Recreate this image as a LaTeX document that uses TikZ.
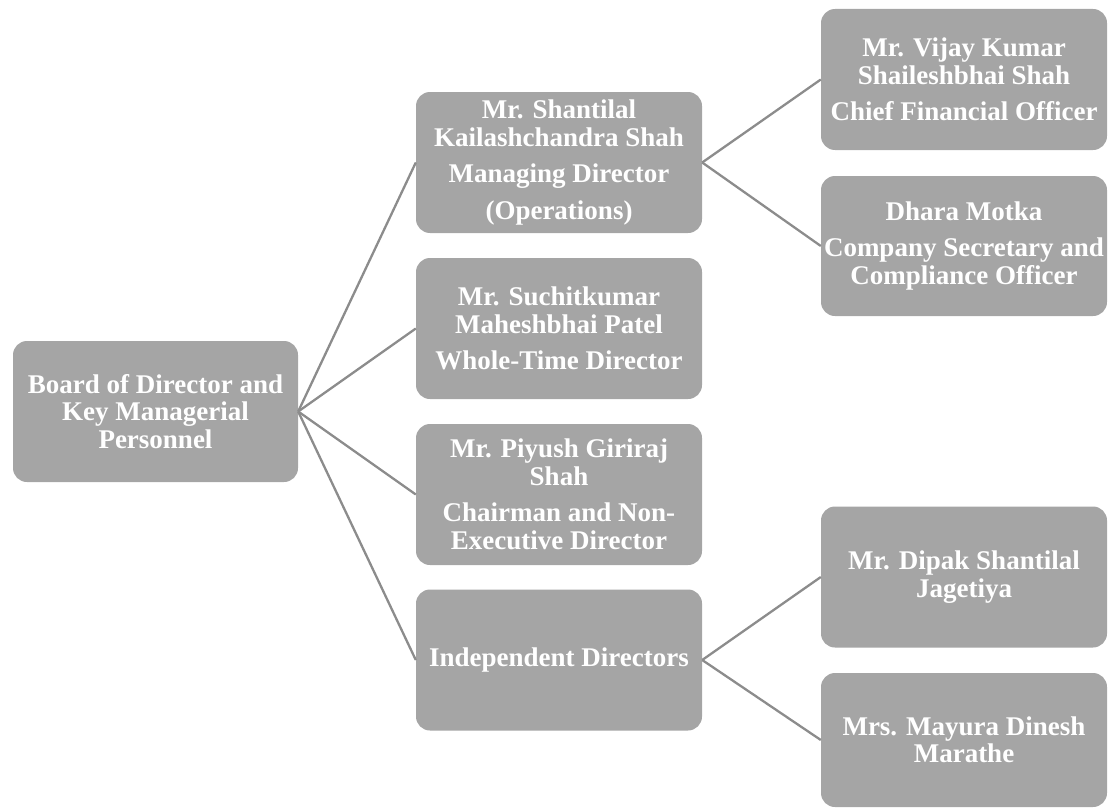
\documentclass[tikz,border=0pt]{standalone}
\usepackage{fontspec}
\setmainfont{Liberation Serif}
\definecolor{boxgray}{HTML}{A5A5A5}
\definecolor{linegray}{HTML}{8C8C8C}
\tikzset{
  orgbox/.style={rectangle, rounded corners=14pt, fill=boxgray, draw=none,
    minimum width=286pt, inner sep=0pt, align=center, text=white,
    font=\fontsize{27}{27.5}\selectfont\bfseries},
  link/.style={draw=linegray, line width=2.3pt}
}
\begin{document}
\begin{tikzpicture}[x=1pt,y=-1pt]
\useasboundingbox (0,0) rectangle (1108,808);
\node[orgbox, minimum width=285pt, minimum height=141pt] (root) at (155.5,411.5)
  {Board of Director and\\Key Managerial\\Personnel};
\node[orgbox, minimum height=141pt] (md) at (559,162.5)
  {Mr. Shantilal\\Kailashchandra Shah\\[9pt]Managing Director\\[9pt](Operations)};
\node[orgbox, minimum height=141pt] (wtd) at (559,328.5)
  {Mr. Suchitkumar\\Maheshbhai Patel\\[9pt]Whole-Time Director};
\node[orgbox, minimum height=141pt] (chair) at (559,494.5)
  {Mr. Piyush Giriraj\\Shah\\[9pt]Chairman and Non-\\Executive Director};
\node[orgbox, minimum height=141pt] (ind) at (559,660)
  {Independent Directors};
\node[orgbox, minimum height=141pt] (cfo) at (964,79.5)
  {Mr. Vijay Kumar\\Shaileshbhai Shah\\[9pt]Chief Financial Officer};
\node[orgbox, minimum height=140pt] (cs) at (964,246)
  {Dhara Motka\\[9pt]Company Secretary and\\Compliance Officer};
\node[orgbox, minimum height=141pt] (dipak) at (964,577)
  {Mr. Dipak Shantilal\\Jagetiya};
\node[orgbox, minimum height=134pt] (mayura) at (964,740)
  {Mrs. Mayura Dinesh\\Marathe};
\draw[link] (root.east) -- (md.west);
\draw[link] (root.east) -- (wtd.west);
\draw[link] (root.east) -- (chair.west);
\draw[link] (root.east) -- (ind.west);
\draw[link] (md.east) -- (cfo.west);
\draw[link] (md.east) -- (cs.west);
\draw[link] (ind.east) -- (dipak.west);
\draw[link] (ind.east) -- (mayura.west);
\end{tikzpicture}
\end{document}
